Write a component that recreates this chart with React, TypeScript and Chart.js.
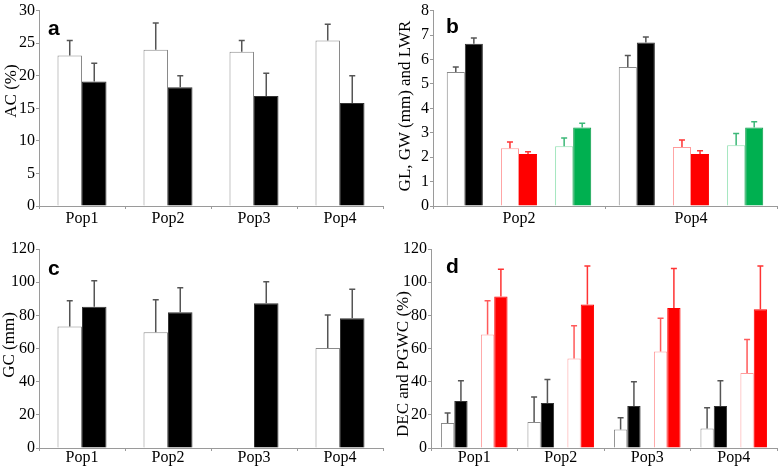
import React, { useEffect, useRef } from "react";
import { Chart, registerables } from "chart.js";

Chart.register(...registerables);

// ---------- data ----------
const popsAll = ["Pop1", "Pop2", "Pop3", "Pop4"];
const popsB = ["Pop2", "Pop4"];

// panel a: AC (%)
const acWhite = [23.1, 24.0, 23.7, 25.4];
const acWhiteErr = [2.3, 4.1, 1.7, 2.5];
const acBlack = [19.1, 18.25, 16.9, 15.8];
const acBlackErr = [2.8, 1.75, 3.5, 4.2];
const acTicks = { min: 0, max: 30, step: 5 };

// panel b: GL, GW (mm) and LWR
const glWhite = [5.49, 5.69];
const glWhiteErr = [0.2, 0.47];
const glBlack = [6.64, 6.69];
const glBlackErr = [0.24, 0.23];
const gwWhite = [2.36, 2.42];
const gwWhiteErr = [0.26, 0.28];
const gwRed = [2.13, 2.13];
const gwRedErr = [0.09, 0.13];
const lwrWhite = [2.45, 2.49];
const lwrWhiteErr = [0.33, 0.48];
const lwrGreen = [3.21, 3.21];
const lwrGreenErr = [0.18, 0.24];
const bTicks = { min: 0, max: 8, step: 1 };

// panel c: GC (mm)
const gcWhite = [73.2, 69.8, null, 60.3];
const gcWhiteErr = [15.6, 19.6, null, 19.9];
const gcBlack = [85.2, 81.8, 87.3, 78.2];
const gcBlackErr = [15.7, 14.9, 13.0, 17.5];
const gcTicks = { min: 0, max: 120, step: 20 };

// panel d: DEC and PGWC (%)
const decWhite = [15.1, 15.7, 11.1, 11.7];
const decWhiteErr = [6.0, 15.1, 7.2, 12.5];
const decBlack = [28.4, 27.2, 25.4, 25.4];
const decBlackErr = [12.1, 14.1, 14.5, 15.1];
const pgwcWhite = [68.5, 54.0, 58.2, 45.3];
const pgwcWhiteErr = [20.3, 19.7, 20.1, 20.2];
const pgwcRed = [91.4, 86.6, 84.4, 83.6];
const pgwcRedErr = [16.4, 23.2, 23.8, 26.2];
const dTicks = { min: 0, max: 120, step: 20 };

// ---------- styles ----------
const SERIF = "'Liberation Serif', 'Times New Roman', serif";
const AXIS = "#9a9a9a";
const ERR_DARK = "#555555";

const errorBarPlugin = {
  id: "errorBars",
  afterDatasetsDraw(chart: any) {
    const ctx = chart.ctx;
    const yScale = chart.scales.y;
    chart.data.datasets.forEach((ds: any, i: number) => {
      if (!ds.errors) return;
      const meta = chart.getDatasetMeta(i);
      meta.data.forEach((el: any, j: number) => {
        const v = ds.data[j];
        const e = ds.errors[j];
        if (v == null || e == null) return;
        const yTop = yScale.getPixelForValue(v + e);
        const x = el.x;
        ctx.save();
        ctx.strokeStyle = ds.errorColor || ERR_DARK;
        ctx.lineWidth = 1.5;
        ctx.beginPath();
        ctx.moveTo(x, el.y);
        ctx.lineTo(x, yTop);
        ctx.moveTo(x - 3, yTop);
        ctx.lineTo(x + 3, yTop);
        ctx.stroke();
        ctx.restore();
      });
    });
  },
};

type DS = {
  data: (number | null)[];
  errors?: (number | null)[];
  fill: string;
  border: string;
  errorColor?: string;
};

function makeDatasets(list: DS[]) {
  return list.map((d) => ({
    data: d.data,
    errors: d.errors,
    errorColor: d.errorColor,
    backgroundColor: d.fill,
    borderColor: d.border,
    borderWidth: 1,
  }));
}

function spacer(n: number): DS {
  return { data: new Array(n).fill(null), fill: "transparent", border: "transparent" };
}

type PanelProps = {
  left: number;
  top: number;
  width: number;
  height: number;
  labels: string[];
  datasets: DS[];
  ticks: { min: number; max: number; step: number };
  title: string;
  titleX: number;
  titleY: number;
  padTop: number;
  padRight: number;
  yWidth: number;
  xHeight: number;
  xPad: number;
  catPct: number;
  letter: string;
  letterX: number;
  letterY: number;
};

function Panel(p: PanelProps) {
  const ref = useRef<HTMLCanvasElement>(null);
  useEffect(() => {
    if (!ref.current) return;
    const chart = new Chart(ref.current, {
      type: "bar",
      data: { labels: p.labels, datasets: makeDatasets(p.datasets) as any },
      options: {
        animation: false,
        responsive: false,
        maintainAspectRatio: false,
        layout: { padding: { left: 0, top: p.padTop, right: p.padRight, bottom: 0 } },
        plugins: { legend: { display: false }, tooltip: { enabled: false } },
        datasets: { bar: { categoryPercentage: p.catPct, barPercentage: 1 } },
        scales: {
          x: {
            grid: { drawOnChartArea: false, drawTicks: true, tickLength: 3, color: AXIS, offset: true },
            border: { display: true, color: AXIS, width: 1 },
            ticks: { color: "#000", font: { family: SERIF, size: 16 }, padding: p.xPad, maxRotation: 0 },
            afterFit: (s: any) => {
              s.height = p.xHeight;
            },
          },
          y: {
            min: p.ticks.min,
            max: p.ticks.max,
            grid: { drawOnChartArea: false, drawTicks: true, tickLength: 3, color: AXIS },
            border: { display: true, color: AXIS, width: 1 },
            ticks: { stepSize: p.ticks.step, color: "#000", font: { family: SERIF, size: 16 }, padding: 1 },
            afterFit: (s: any) => {
              s.width = p.yWidth;
            },
          },
        },
      } as any,
      plugins: [errorBarPlugin],
    });
    return () => chart.destroy();
  }, []);
  return (
    <div style={{ position: "absolute", left: p.left, top: p.top, width: p.width, height: p.height }}>
      <canvas ref={ref} width={p.width} height={p.height} style={{ width: p.width, height: p.height, display: "block" }} />
      <div
        style={{
          position: "absolute",
          left: p.titleX,
          top: p.titleY,
          transform: "translate(-50%, -50%) rotate(-90deg)",
          whiteSpace: "nowrap",
          fontFamily: SERIF,
          fontSize: 17,
          lineHeight: "17px",
          color: "#000",
        }}
      >
        {p.title}
      </div>
      <div
        style={{
          position: "absolute",
          left: p.letterX,
          top: p.letterY,
          fontFamily: "'Liberation Sans', Arial, sans-serif",
          fontWeight: "bold",
          fontSize: 21,
          lineHeight: "21px",
          color: "#000",
        }}
      >
        {p.letter}
      </div>
    </div>
  );
}

const W = "#ffffff";
const WHITE_BORDER = "#8a8a8a";
const BLACK = "#000000";
const BLACK_BORDER = "#333333";
const RED = "#ff0000";
const PINK = "#ff9a9a";
const ERR_RED = "#ff3333";
const ERR_PINK = "#ff5a5a";
const GREEN = "#00b050";
const GREEN_BORDER = "#0a9a48";
const LIGHTGREEN = "#8fe0b0";
const ERR_GREEN = "#3cb878";

export default function App() {
  return (
    <div style={{ position: "absolute", left: 0, top: 0, width: 778, height: 466, background: "#fff", overflow: "hidden" }}>
      <Panel
        left={0}
        top={0}
        width={389}
        height={232}
        labels={popsAll}
        datasets={[
          { data: acWhite, errors: acWhiteErr, fill: W, border: WHITE_BORDER },
          { data: acBlack, errors: acBlackErr, fill: BLACK, border: BLACK_BORDER },
        ]}
        ticks={acTicks}
        title="AC (%)"
        titleX={10}
        titleY={91}
        padTop={7}
        padRight={6}
        yWidth={39}
        xHeight={26}
        xPad={0}
        catPct={0.57}
        letter="a"
        letterX={48}
        letterY={17}
      />
      <Panel
        left={389}
        top={0}
        width={389}
        height={232}
        labels={popsB}
        datasets={[
          { data: glWhite, errors: glWhiteErr, fill: W, border: WHITE_BORDER },
          { data: glBlack, errors: glBlackErr, fill: BLACK, border: BLACK_BORDER },
          spacer(2),
          { data: gwWhite, errors: gwWhiteErr, fill: W, border: PINK, errorColor: ERR_RED },
          { data: gwRed, errors: gwRedErr, fill: RED, border: RED, errorColor: ERR_RED },
          spacer(2),
          { data: lwrWhite, errors: lwrWhiteErr, fill: W, border: LIGHTGREEN, errorColor: ERR_GREEN },
          { data: lwrGreen, errors: lwrGreenErr, fill: GREEN, border: GREEN_BORDER, errorColor: ERR_GREEN },
        ]}
        ticks={bTicks}
        title="GL, GW (mm) and LWR"
        titleX={15}
        titleY={106}
        padTop={7}
        padRight={1}
        yWidth={44}
        xHeight={26}
        xPad={0}
        catPct={0.84}
        letter="b"
        letterX={57}
        letterY={15}
      />
      <Panel
        left={0}
        top={232}
        width={389}
        height={234}
        labels={popsAll}
        datasets={[
          { data: gcWhite, errors: gcWhiteErr, fill: W, border: WHITE_BORDER },
          { data: gcBlack, errors: gcBlackErr, fill: BLACK, border: BLACK_BORDER },
        ]}
        ticks={gcTicks}
        title="GC (mm)"
        titleX={8}
        titleY={113}
        padTop={17}
        padRight={6}
        yWidth={39}
        xHeight={18}
        xPad={-3}
        catPct={0.57}
        letter="c"
        letterX={48}
        letterY={25}
      />
      <Panel
        left={389}
        top={232}
        width={389}
        height={234}
        labels={popsAll}
        datasets={[
          { data: decWhite, errors: decWhiteErr, fill: W, border: WHITE_BORDER },
          { data: decBlack, errors: decBlackErr, fill: BLACK, border: BLACK_BORDER },
          spacer(4),
          { data: pgwcWhite, errors: pgwcWhiteErr, fill: W, border: PINK, errorColor: ERR_PINK },
          { data: pgwcRed, errors: pgwcRedErr, fill: RED, border: RED, errorColor: ERR_RED },
        ]}
        ticks={dTicks}
        title="DEC and PGWC (%)"
        titleX={13}
        titleY={132}
        padTop={17}
        padRight={1}
        yWidth={42}
        xHeight={18}
        xPad={-3}
        catPct={0.77}
        letter="d"
        letterX={57}
        letterY={23}
      />
    </div>
  );
}
